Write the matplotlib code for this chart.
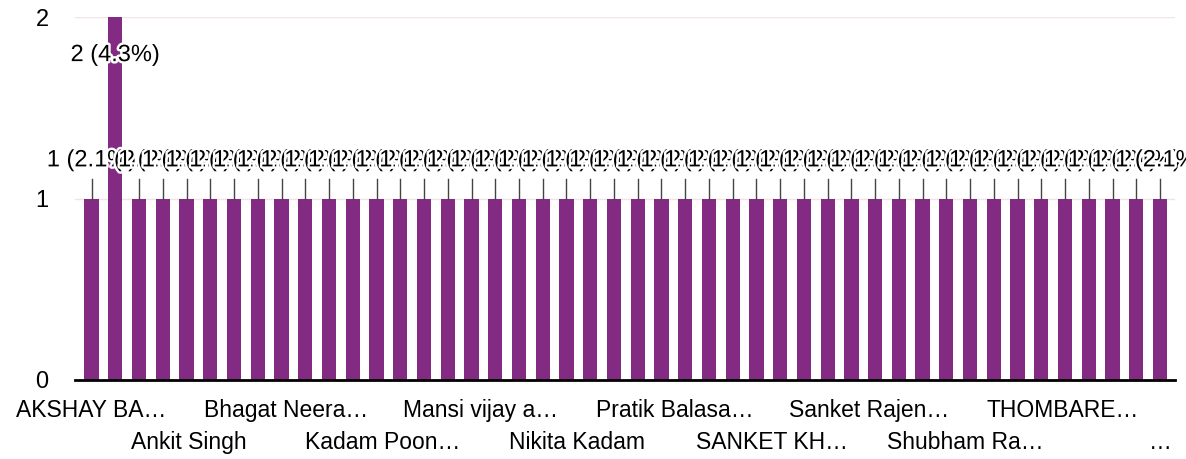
import matplotlib.pyplot as plt
import matplotlib.patheffects as pe
import numpy as np

plt.rcParams['font.family'] = ['Liberation Sans', 'DejaVu Sans']

# počty odpovědí pro každé jméno (46 sloupců)
counts = [1, 2, 1, 1, 1, 1, 1, 1, 1, 1,
          1, 1, 1, 1, 1, 1, 1, 1, 1, 1,
          1, 1, 1, 1, 1, 1, 1, 1, 1, 1,
          1, 1, 1, 1, 1, 1, 1, 1, 1, 1,
          1, 1, 1, 1, 1, 1]

# zobrazené popisky osy x (jen každý ~4. se vejde)
shown_labels = ["AKSHAY BA…", "Ankit Singh", "Bhagat Neera…", "Kadam Poon…",
                "Mansi vijay a…", "Nikita Kadam", "Pratik Balasa…", "SANKET KH…",
                "Sanket Rajen…", "Shubham Ra…", "THOMBARE…", "…"]

y_ticks = [0, 1, 2]

bar_color = "#832a83"

n = len(counts)
total = sum(counts)
x = np.arange(n)

fig = plt.figure(figsize=(11.86, 4.59), dpi=100)
ax = fig.add_axes([75 / 1186, 79 / 459, 1100 / 1186, 363 / 459])

ax.bar(x, counts, width=0.6, color=bar_color, zorder=2)

ax.set_xlim(-0.7, n - 1 + 0.63)
ax.set_ylim(0, 2)
ax.set_yticks(y_ticks)
ax.set_yticklabels([str(t) for t in y_ticks], fontsize=17)
ax.tick_params(axis="y", length=0, pad=19)
ax.set_xticks([])

for sp in ["top", "right", "left"]:
    ax.spines[sp].set_visible(False)
ax.spines["bottom"].set_linewidth(2)
ax.spines["bottom"].set_zorder(3)

ax.grid(axis="y", color="#f1e4e4", linewidth=1, zorder=0)

# popisky v datech s "aurou" jako v Google grafech
halo = [pe.withStroke(linewidth=3.5, foreground="white")]
for i, c in enumerate(counts):
    txt = f"{c} ({c / total * 100:.1f}%)"
    if c == 1:
        ax.plot([i, i], [1.0, 1.11], color="#444444", linewidth=1, zorder=3)
        ax.text(i, 1.21, txt, ha="center", va="center", fontsize=17,
                path_effects=halo, zorder=4 + i, clip_on=False)
    else:
        ax.text(i, 1.79, txt, ha="center", va="center", fontsize=17,
                path_effects=halo, zorder=4 + i, clip_on=False)

# popisky kategorií ve dvou řádcích
label_pos = np.linspace(0, n - 1, len(shown_labels))
xt = ax.get_xaxis_transform()
for k, (pos, lab) in enumerate(zip(label_pos, shown_labels)):
    yy = -0.083 if k % 2 == 0 else -0.171
    ax.text(pos, yy, lab, transform=xt, ha="center", va="center", fontsize=16.5)

fig.savefig("out.png", dpi=100)
